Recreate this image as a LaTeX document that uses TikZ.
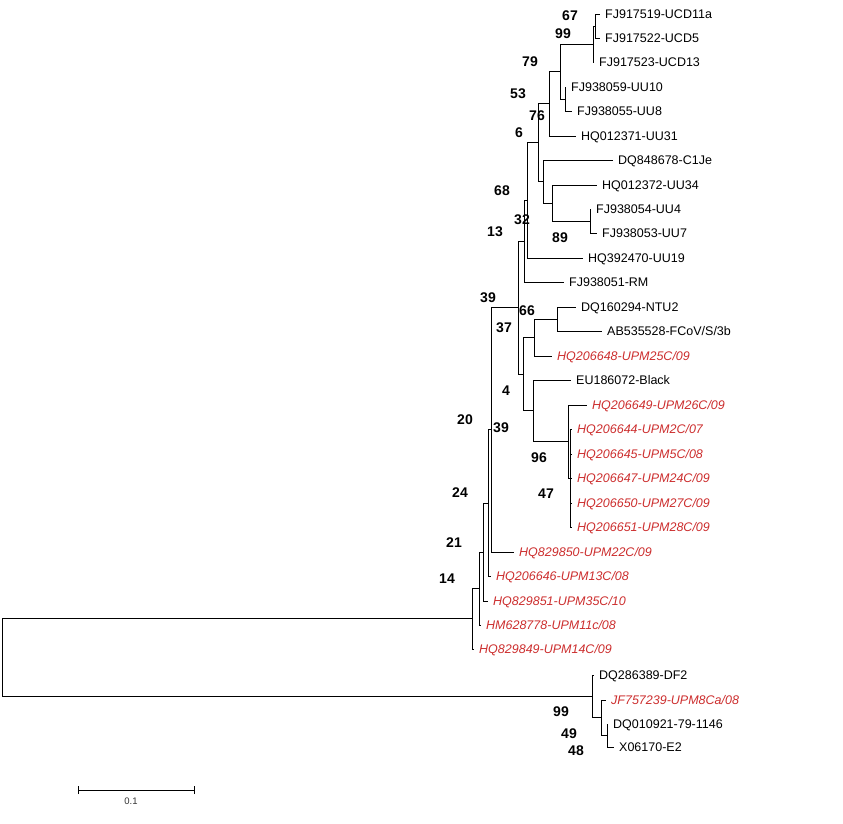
\documentclass[tikz,border=0pt]{standalone}
\usepackage{fontspec}
\setmainfont{Liberation Sans}
\definecolor{upmred}{RGB}{204,45,45}
\tikzset{
 taxon/.style={anchor=west,inner sep=0pt,xshift=5pt,text height=9pt,text depth=0pt,font=\fontsize{12.5}{14}\selectfont},
 upm/.style={taxon,text=upmred,font=\fontsize{12.5}{14}\selectfont\itshape},
 boot/.style={inner sep=0pt,text height=10pt,text depth=0pt,font=\fontsize{14}{16}\selectfont\bfseries},
 branch/.style={line width=1pt}
}
\begin{document}
\begin{tikzpicture}[x=1pt,y=-1pt]
 \useasboundingbox (0,0) rectangle (843,823);
 % tips
 \foreach \n/\x/\y/\t in {t1/600/14/{FJ917519-UCD11a},t2/600/38/{FJ917522-UCD5},t3/594/62/{FJ917523-UCD13},
   t4/566/87/{FJ938059-UU10},t5/572/111/{FJ938055-UU8},t6/576/136/{HQ012371-UU31},t7/613/160/{DQ848678-C1Je},
   t8/597/185/{HQ012372-UU34},t9/591/209/{FJ938054-UU4},t10/597/233/{FJ938053-UU7},t11/583/258/{HQ392470-UU19},
   t12/564/282/{FJ938051-RM},t13/576/307/{DQ160294-NTU2},t14/602/331/{AB535528-FCoV/S/3b},t16/571/380/{EU186072-Black},
   t28/594/675/{DQ286389-DF2},t30/608/724/{DQ010921-79-1146},t31/614/747/{X06170-E2}}{
  \coordinate (\n) at (\x,\y);
  \node[taxon] (l\n) at (\n) {\t};
 }
 \foreach \n/\x/\y/\t in {t15/552/356/{HQ206648-UPM25C/09},t17/587/405/{HQ206649-UPM26C/09},t18/572/429/{HQ206644-UPM2C/07},
   t19/572/454/{HQ206645-UPM5C/08},t20/572/478/{HQ206647-UPM24C/09},t21/572/503/{HQ206650-UPM27C/09},
   t22/572/527/{HQ206651-UPM28C/09},t23/514/552/{HQ829850-UPM22C/09},t24/491/576/{HQ206646-UPM13C/08},
   t25/488/601/{HQ829851-UPM35C/10},t26/481/625/{HM628778-UPM11c/08},t27/474/649/{HQ829849-UPM14C/09},
   t29/606/700/{JF757239-UPM8Ca/08}}{
  \coordinate (\n) at (\x,\y);
  \node[upm] (l\n) at (\n) {\t};
 }
 % internal nodes
 \foreach \n/\x/\y in {ucda/595/26,ucd/593/44,uu/565/99,na/560/71,nb/549/103.5,nf/590/221,ne/552/203,nd/543/181.5,
   nc/538/142.5,ng/527/200,nh/524/241,nm/557/319,nk/534/337.5,no/570/478,nn/568/441.5,nl/533/410.75,nj/523/374,
   ni/518/307.5,nw/491/429.75,nv/488/503,nu/483/552,nt/479/588.5,ns/472/618.75,nz/607/735.5,ny/601/717.75,
   nx/592/696.4,root/2/657.6}
  \coordinate (\n) at (\x,\y);
 % branches
 \foreach \p/\c in {ucda/t1,ucda/t2,ucd/ucda,ucd/t3,uu/t4,uu/t5,na/ucd,na/uu,nb/na,nb/t6,nf/t9,nf/t10,ne/t8,ne/nf,
   nd/t7,nd/ne,nc/nb,nc/nd,ng/nc,ng/t11,nh/ng,nh/t12,nm/t13,nm/t14,nk/nm,nk/t15,no/t18,no/t19,no/t20,no/t21,no/t22,
   nn/t17,nn/no,nl/t16,nl/nn,nj/nk,nj/nl,ni/nh,ni/nj,nw/ni,nw/t23,nv/nw,nv/t24,nu/nv,nu/t25,nt/nu,nt/t26,ns/nt,ns/t27,
   nz/t30,nz/t31,ny/t29,ny/nz,nx/t28,nx/ny,root/ns,root/nx}
  \draw[branch] (\p) |- (\c);
 % bootstrap values
 \foreach \x/\y/\v [count=\i] in {570/15/67,563/33/99,530/61/79,518/93/53,537/115/76,519/132/6,502/190/68,522/219/32,
   495/231/13,560/237/89,488/297/39,527/310/66,504/327/37,506/390/4,465/419/20,501/427/39,539/457/96,546/493/47,
   460/492/24,454/542/21,447/578/14,561/711/99,569/733/49,576/750/48}
  \node[boot] (b\i) at (\x,\y) {\v};
 % scale bar
 \coordinate (sba) at (78,790);\coordinate (sbb) at (194,790);
 \draw[branch] (sba)--(sbb);
 \draw[branch] ([yshift=-4pt]sba)--([yshift=4pt]sba);
 \draw[branch] ([yshift=-4pt]sbb)--([yshift=4pt]sbb);
 \node[inner sep=0pt,font=\fontsize{9.5}{11}\selectfont,text=black!80] (sbl) at (131,801) {0.1};
\end{tikzpicture}
\end{document}
